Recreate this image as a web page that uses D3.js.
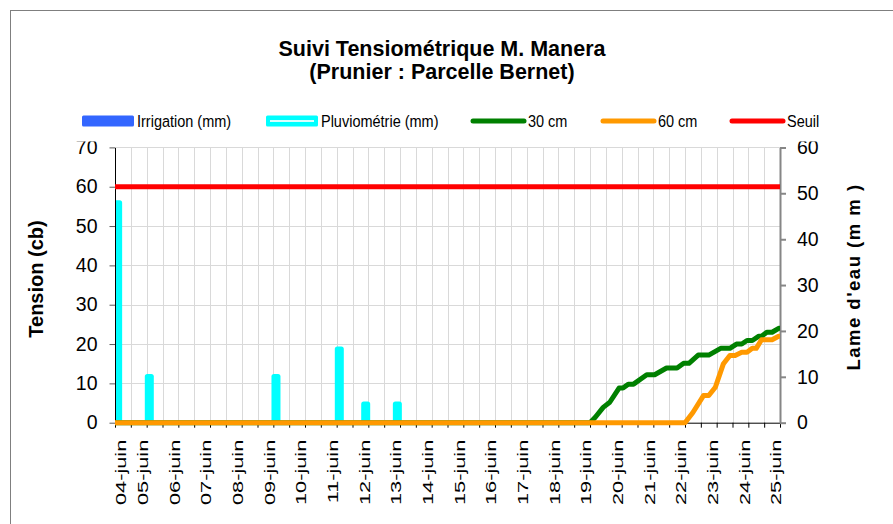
<!DOCTYPE html>
<html>
<head>
<meta charset="utf-8">
<script src="https://cdn.jsdelivr.net/npm/d3@7"></script>
<style>
  body { margin: 0; background: #fff; }
  text { font-family: "Liberation Sans", Arial, sans-serif; }
</style>
</head>
<body>
<div id="chart"></div>
<script>
const width = 893;
const height = 524;

// data
const dayLabels = ["04-juin","05-juin","06-juin","07-juin","08-juin","09-juin","10-juin","11-juin",
  "12-juin","13-juin","14-juin","15-juin","16-juin","17-juin","18-juin","19-juin","20-juin",
  "21-juin","22-juin","23-juin","24-juin","25-juin"];
const tensionTicks = [0, 10, 20, 30, 40, 50, 60, 70];
const lameTicks = [0, 10, 20, 30, 40, 50, 60];

const irrigationTimes = [];
const irrigationMm = [];

const pluvioTimes = ["04/06 02:00", "05/06 02:00", "09/06 02:00", "11/06 02:00", "11/06 22:00", "12/06 22:00"];
const pluvioMm = [48.5, 10.6, 10.6, 16.6, 4.6, 4.6];

const t30Times = ["04/06 00:00","19/06 00:00","19/06 04:00","19/06 10:00","19/06 15:00","19/06 22:00",
  "20/06 01:00","20/06 05:00","20/06 09:00","20/06 19:00","21/06 01:00","21/06 10:00","21/06 18:00",
  "21/06 23:00","22/06 03:00","22/06 10:00","22/06 18:00","23/06 03:00","23/06 10:00","23/06 15:00",
  "23/06 19:00","23/06 23:00","24/06 03:00","24/06 08:00","24/06 10:00","24/06 14:00","24/06 18:00",
  "24/06 23:00","25/06 00:00"];
const t30Values = [0, 0, 1.4, 3.9, 5.2, 8.8, 8.8, 9.8, 9.8, 12.2, 12.2, 13.9, 13.9, 15.1, 15.1, 17.2, 17.2,
  18.9, 18.9, 20.0, 20.0, 20.9, 20.9, 22.0, 22.0, 23.0, 23.0, 24.0, 24.0];

const t60Times = ["04/06 00:00","22/06 00:00","22/06 06:00","22/06 14:00","22/06 18:00","22/06 23:00",
  "23/06 05:00","23/06 10:00","23/06 14:00","23/06 19:00","23/06 23:00","24/06 03:00","24/06 06:00",
  "24/06 10:00","24/06 18:00","24/06 23:00","25/06 00:00"];
const t60Values = [0, 0, 2.6, 6.9, 6.9, 9.0, 14.9, 17.1, 17.1, 17.9, 17.9, 18.9, 18.9, 21.1, 21.1, 22.0, 22.0];

const seuilTimes = ["04/06 00:00", "25/06 00:00"];
const seuilValues = [60, 60];

const parse = d3.timeParse("%d/%m %H:%M");

const svg = d3.select("#chart").append("svg")
    .attr("width", width)
    .attr("height", height);

// chart border
svg.append("rect")
    .attr("x", 10.5).attr("y", 10.5)
    .attr("width", width).attr("height", height)
    .attr("fill", "none").attr("stroke", "#7f7f7f");

const x0 = 115, x1 = 780, yTop = 147.4, yBot = 422.7;

const x = d3.scaleTime()
    .domain([parse("04/06 00:00"), parse("25/06 00:00")])
    .range([x0, x1]);
const yL = d3.scaleLinear().domain([0, 70]).range([yBot, yTop]);
const yR = d3.scaleLinear().domain([0, 60]).range([yBot, yTop]);

const halfDays = d3.timeHour.every(12).range(x.domain()[0], d3.timeHour.offset(x.domain()[1], 1));

// grid
const grid = svg.append("g").attr("stroke", "#d9d9d9").attr("stroke-width", 1);
grid.selectAll(".hg").data(tensionTicks.slice(1))
  .enter().append("line")
    .attr("x1", x0).attr("x2", x1)
    .attr("y1", d => Math.round(yL(d)) + 0.5).attr("y2", d => Math.round(yL(d)) + 0.5);
grid.selectAll(".vg").data(halfDays.slice(1, -1))
  .enter().append("line")
    .attr("x1", d => Math.round(x(d)) + 0.5).attr("x2", d => Math.round(x(d)) + 0.5)
    .attr("y1", yTop).attr("y2", yBot);

const defs = svg.append("defs");
defs.append("clipPath").attr("id", "plotClip")
  .append("rect").attr("x", x0).attr("y", yTop - 10).attr("width", x1 - x0).attr("height", yBot - yTop + 10);
defs.append("clipPath").attr("id", "labelClip")
  .append("rect").attr("x", 0).attr("y", 141.5).attr("width", width).attr("height", height);

const plot = svg.append("g").attr("clip-path", "url(#plotClip)");

// bars (right axis, mm)
const barW = 9;
plot.selectAll(".pluvio").data(pluvioTimes.map((t, i) => ({t: parse(t), v: pluvioMm[i]})))
  .enter().append("rect")
    .attr("x", d => x(d.t) - barW / 2)
    .attr("y", d => yR(d.v))
    .attr("width", barW)
    .attr("height", d => yBot - yR(d.v) + 3)
    .attr("rx", 2.5)
    .attr("fill", "#00ffff");
plot.selectAll(".irrig").data(irrigationTimes.map((t, i) => ({t: parse(t), v: irrigationMm[i]})))
  .enter().append("rect")
    .attr("x", d => x(d.t) - barW / 2)
    .attr("y", d => yR(d.v))
    .attr("width", barW)
    .attr("height", d => yBot - yR(d.v))
    .attr("fill", "#3366ff");

// axes
const xAxis = svg.append("g")
    .attr("transform", `translate(0,${yBot})`)
    .call(d3.axisBottom(x).tickValues(halfDays).tickSize(5).tickSizeOuter(0).tickFormat(""));
xAxis.select(".domain").attr("stroke", "#000");

const days = d3.timeDay.range(x.domain()[0], d3.timeHour.offset(x.domain()[1], 1));
svg.append("g").selectAll("text").data(days)
  .enter().append("text")
    .attr("transform", d => `translate(${Math.max(x(d) - 4, x0 + 6)},${yBot + 17}) rotate(-90) scale(1.45,1)`)
    .attr("text-anchor", "end")
    .attr("dominant-baseline", "central")
    .style("font-size", "15px")
    .text((d, i) => dayLabels[i]);

const axesClip = svg.append("g").attr("clip-path", "url(#labelClip)");

const leftAxis = axesClip.append("g")
    .attr("transform", `translate(${x0},0)`)
    .call(d3.axisLeft(yL).tickValues(tensionTicks).tickSize(5.5).tickSizeOuter(0).tickPadding(12));
leftAxis.selectAll("text").style("font-size", "19.5px").attr("fill", "#000");
leftAxis.select(".domain").attr("stroke", "#000");
leftAxis.selectAll(".tick line").attr("stroke", "#595959");

const rightAxis = axesClip.append("g")
    .attr("transform", `translate(${x1},0)`)
    .call(d3.axisRight(yR).tickValues(lameTicks).tickSize(6).tickSizeOuter(0).tickPadding(11));
rightAxis.selectAll("text").style("font-size", "19.5px").attr("fill", "#000");
rightAxis.select(".domain").attr("stroke", "#868686").attr("stroke-width", 2);
rightAxis.selectAll(".tick line").attr("stroke", "#868686").attr("stroke-width", 2);
svg.selectAll("g[font-family]").attr("font-family", null);

// lines (left axis, cb)
const line = d3.line().x(d => x(d.t)).y(d => yL(d.v));
const series = [
  {times: t30Times, values: t30Values, color: "#008000"},
  {times: t60Times, values: t60Values, color: "#ff9900"},
  {times: seuilTimes, values: seuilValues, color: "#ff0000"}
];
series.forEach(s => {
  svg.append("path")
    .datum(s.times.map((t, i) => ({t: parse(t), v: s.values[i]})))
    .attr("d", line)
    .attr("fill", "none")
    .attr("stroke", s.color)
    .attr("stroke-width", 5)
    .attr("stroke-linejoin", "round");
});

// titles
const title = svg.append("text")
    .attr("x", 442).attr("text-anchor", "middle")
    .style("font-size", "21.5px").style("font-weight", "bold");
title.append("tspan").attr("x", 442).attr("y", 56).text("Suivi Tensiométrique M. Manera");
title.append("tspan").attr("x", 442).attr("y", 79).text("(Prunier : Parcelle Bernet)");

svg.append("text")
    .attr("transform", "translate(43,279) rotate(-90)")
    .attr("text-anchor", "middle")
    .style("font-size", "20px").style("font-weight", "bold")
    .text("Tension (cb)");

svg.append("text")
    .attr("transform", "translate(860,277) rotate(-90)")
    .attr("text-anchor", "middle")
    .style("font-size", "18.5px").style("font-weight", "bold")
    .style("letter-spacing", "1.5px")
    .text("Lame d'eau (m m )");

// legend
const legendY = 121;
const legendItems = [
  {label: "Irrigation (mm)", x: 82, type: "rect", color: "#3366ff"},
  {label: "Pluviométrie (mm)", x: 266, type: "bar", color: "#00ffff"},
  {label: "30 cm", x: 473, type: "line", color: "#008000"},
  {label: "60 cm", x: 603, type: "line", color: "#ff9900"},
  {label: "Seuil", x: 732, type: "line", color: "#ff0000"}
];
const legend = svg.append("g");
legendItems.forEach(item => {
  const g = legend.append("g").attr("transform", `translate(${item.x},${legendY})`);
  if (item.type === "line") {
    g.append("line").attr("x1", 0).attr("x2", 51)
      .attr("stroke", item.color).attr("stroke-width", 5).attr("stroke-linecap", "round");
  } else {
    g.append("rect").attr("x", 0).attr("y", -5.5).attr("width", 52).attr("height", 11)
      .attr("rx", 1.5).attr("fill", item.color);
    if (item.type === "bar") {
      g.append("line").attr("x1", 4).attr("x2", 48)
        .attr("stroke", "#ffffff").attr("stroke-width", 2).attr("opacity", 0.85);
    }
  }
  g.append("text")
    .attr("x", 55)
    .attr("transform", "scale(1,1.2)")
    .attr("dominant-baseline", "central")
    .style("font-size", "14.5px")
    .text(item.label);
});
</script>
</body>
</html>
